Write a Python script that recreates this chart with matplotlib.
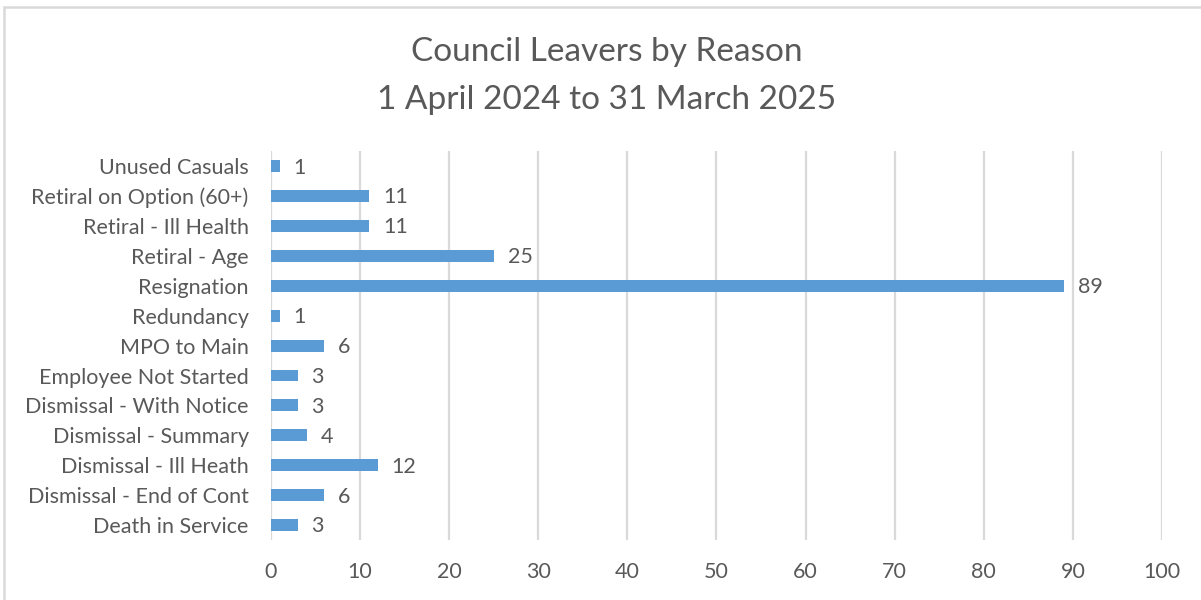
import matplotlib.pyplot as plt
from matplotlib.patches import Rectangle

# leavers by reason, bottom to top as plotted
reasons = [
    "Death in Service",
    "Dismissal - End of Cont",
    "Dismissal - Ill Heath",
    "Dismissal - Summary",
    "Dismissal - With Notice",
    "Employee Not Started",
    "MPO to Main",
    "Redundancy",
    "Resignation",
    "Retiral - Age",
    "Retiral - Ill Health",
    "Retiral on Option (60+)",
    "Unused Casuals",
]
leavers = [3, 6, 12, 4, 3, 3, 6, 1, 89, 25, 11, 11, 1]
x_ticks = [0, 10, 20, 30, 40, 50, 60, 70, 80, 90, 100]

text_grey = "#595959"
bar_blue = "#5B9BD5"

plt.rcParams["font.family"] = ["Lato", "DejaVu Sans"]

fig = plt.figure(figsize=(12.01, 6.0), dpi=100)
ax = fig.add_axes([0.2256, 0.1, 0.7419, 0.648])

y = range(len(reasons))
bars = ax.barh(y, leavers, height=0.4, color=bar_blue, zorder=3)

# value labels to the right of each bar
for bar, v in zip(bars, leavers):
    ax.annotate(str(v), (bar.get_width(), bar.get_y() + bar.get_height() / 2),
                xytext=(10, -1), textcoords="offset points",
                ha="left", va="center", fontsize=15.5, color=text_grey)

ax.set_xlim(0, 100)
ax.set_ylim(-0.5, len(reasons) - 0.5)
ax.set_xticks(x_ticks)
ax.set_yticks(list(y))
ax.set_yticklabels(reasons)
ax.tick_params(axis="both", length=0, labelsize=15.5, labelcolor=text_grey)
ax.tick_params(axis="x", pad=16)
ax.tick_params(axis="y", pad=16)

ax.grid(axis="x", color="#d9d9d9", linewidth=1.6, zorder=0)
for s in ax.spines.values():
    s.set_visible(False)

fig.text(0.505, 0.913, "Council Leavers by Reason", ha="center", va="center",
         fontsize=24, color=text_grey)
fig.text(0.505, 0.833, "1 April 2024 to 31 March 2025", ha="center", va="center",
         fontsize=24, color=text_grey)

# chart area border (only top and left edges fall inside the image)
fig.patches.append(Rectangle((4 / 1201, -0.1), 1.2, (600 - 7) / 600 + 0.1,
                             transform=fig.transFigure, fill=False,
                             edgecolor="#d9d9d9", linewidth=1.8))

fig.savefig("out.png", dpi=100)
